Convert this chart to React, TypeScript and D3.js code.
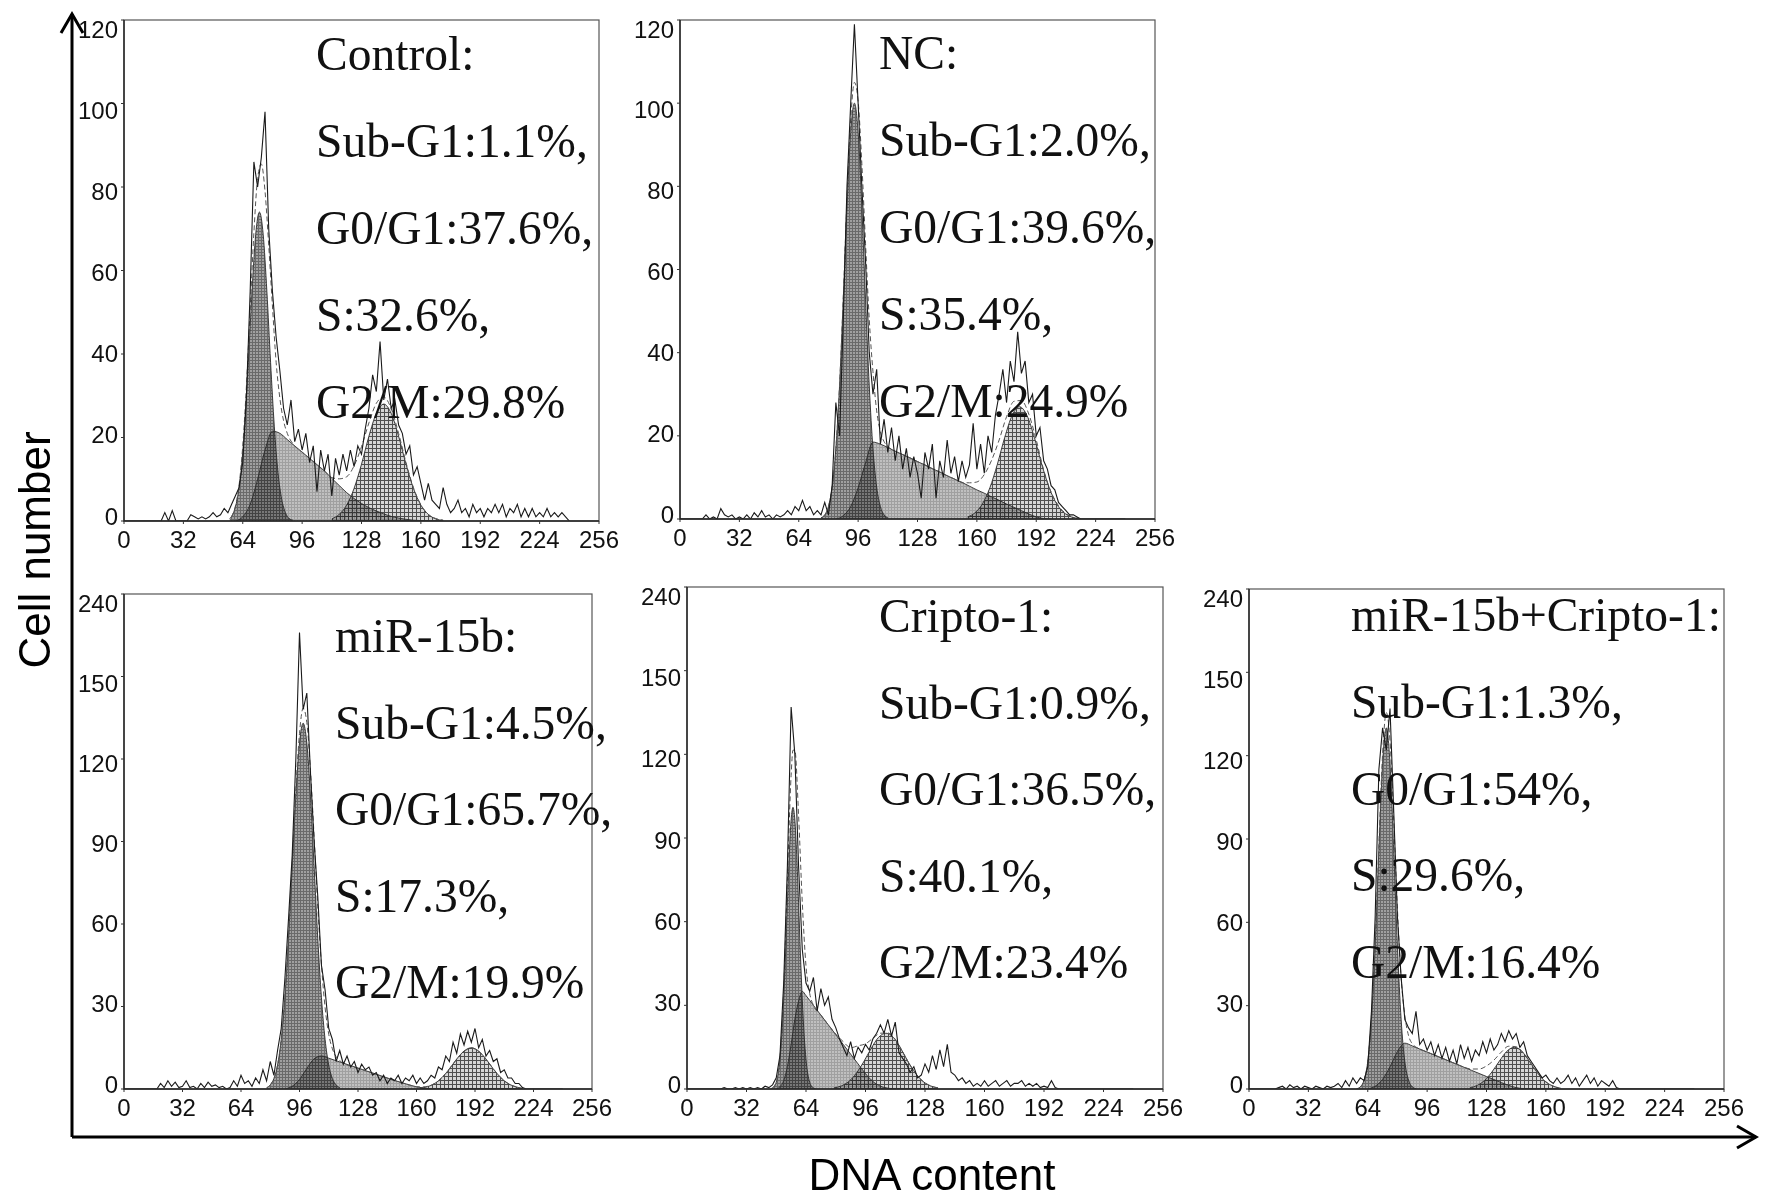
import { useEffect, useRef } from 'react'
import * as d3 from 'd3'

type Pt = [number, number]

// raw histograms hold one value per 2 channels, starting at channel 0
const RAW_STEP = 2

const xTicks = [0, 32, 64, 96, 128, 160, 192, 224, 256]
const topYTicks = [0, 20, 40, 60, 80, 100, 120]
const topYLabels = ['0', '20', '40', '60', '80', '100', '120']
const bottomYTicks = [0, 30, 60, 90, 120, 150, 180]
const bottomYLabels = ['0', '30', '60', '90', '120', '150', '240']

// ── Control ─────────────────────────────────────────────────────────
const controlText = ['Control:', 'Sub-G1:1.1%,', 'G0/G1:37.6%,', 'S:32.6%,', 'G2/M:29.8%']
const controlRaw = [
  0, 0, 0, 0, 0, 0, 0, 0, 0, 0,
  0, 2, 0, 2.5, 0, 0, 0, 0, 1.5, 1,
  0.5, 1, 0.5, 1, 2, 1, 1.5, 3, 2, 4,
  6, 8, 14, 30, 55, 86, 80, 87, 98, 70,
  55, 44, 36, 27, 23, 29, 19, 22, 17, 21,
  14, 18, 7, 17, 12, 16, 6, 15, 11, 16,
  12, 17, 13, 18, 16, 22, 27, 35, 31, 43,
  29, 34, 27, 29, 23, 21, 16, 18, 11, 13,
  9, 5, 9, 5, 4, 3, 8, 4, 2, 3,
  5, 2, 3, 1, 4, 2, 3, 1, 3, 2,
  4, 2, 4, 1, 3, 2, 4, 1, 3, 1,
  3, 1, 2, 1, 3, 1, 2, 1, 2, 1,
  0,
]
const controlG1: Pt[] = [
  [57, 0.6], [59, 2], [61, 5.2], [63, 11.6], [65, 22.7], [67, 38], [69, 55], [71, 68.7], [73, 74],
  [75, 68.7], [77, 55], [79, 38], [81, 22.7], [83, 11.6], [85, 5.2], [87, 2], [89, 0.6], [91, 0.2],
]
const controlS: Pt[] = [
  [60, 0], [64, 1], [68, 4], [72, 10], [76, 17], [80, 21.5], [84, 21], [88, 19.5], [92, 18], [96, 16.5],
  [100, 15], [104, 13.5], [108, 12], [112, 10.2], [116, 8.5], [120, 6.8], [124, 5.4], [128, 4.2],
  [132, 3.2], [136, 2.4], [140, 1.7], [144, 1.1], [148, 0.7], [152, 0.4], [156, 0.2], [160, 0.1], [164, 0],
]
const controlG2: Pt[] = [
  [112, 0.5], [116, 1.6], [120, 3.8], [124, 7.8], [128, 13.6], [132, 20.3], [136, 25.8], [140, 28],
  [144, 25.8], [148, 20.3], [152, 13.6], [156, 7.8], [160, 3.8], [164, 1.6], [168, 0.5], [172, 0.15],
]
const controlFit: Pt[] = [
  [58, 1], [60, 3.5], [62, 8.5], [64, 18], [66, 32.5], [68, 50.5], [70, 69], [72, 82], [74, 85.5],
  [76, 79], [78, 66], [80, 51.5], [82, 38], [84, 29.4], [86, 24], [88, 21], [92, 18], [96, 16.5],
  [100, 15], [104, 13.5], [108, 12], [112, 10.4], [116, 10.1], [120, 10.6], [124, 13.2], [128, 17.8],
  [132, 23.5], [136, 28.2], [140, 29.7], [144, 26.9], [148, 21], [152, 14], [156, 8], [160, 3.9],
  [164, 1.6], [168, 0.6], [172, 0.2],
]

// ── NC ──────────────────────────────────────────────────────────────
const ncText = ['NC:', 'Sub-G1:2.0%,', 'G0/G1:39.6%,', 'S:35.4%,', 'G2/M:24.9%']
const ncRaw = [
  0, 0, 0, 0, 0, 0, 0, 1, 0, 0.5,
  0, 2.5, 1, 0.5, 1, 0, 0.5, 0, 1, 0,
  1.5, 0.5, 2, 0.5, 1, 0, 1, 0.5, 1, 2,
  1, 3, 2, 4.5, 2, 3, 1, 2, 1, 4,
  1, 8, 28, 20, 48, 80, 100, 119, 100, 80,
  62, 40, 30, 36, 18, 24, 16, 22, 14, 20,
  12, 17, 10, 15, 11, 5, 16, 12, 18, 5,
  14, 10, 19, 11, 15, 9, 14, 10, 13, 23,
  12, 18, 11, 20, 16, 25, 30, 36, 28, 38,
  33, 45, 35, 38, 28, 30, 20, 22, 14, 12,
  8, 7, 4, 3, 2, 1, 1, 0.5, 0, 0,
  0, 0, 0, 0, 0, 0, 0, 0, 0, 0,
  0,
]
const ncG1: Pt[] = [
  [76, 0.3], [78, 1], [80, 3], [82, 7.7], [84, 16.9], [86, 32], [88, 52.7], [90, 75], [92, 93], [94, 100],
  [96, 93], [98, 75], [100, 52.7], [102, 32], [104, 16.9], [106, 7.7], [108, 3], [110, 1], [112, 0.3],
]
const ncS: Pt[] = [
  [84, 0], [88, 0.8], [92, 3], [96, 7.5], [100, 13.5], [104, 18.5], [108, 18], [112, 17.2], [116, 16.3],
  [120, 15.5], [124, 14.7], [128, 13.8], [132, 13], [136, 12.1], [140, 11.3], [144, 10.4], [148, 9.6],
  [152, 8.8], [156, 7.9], [160, 7], [164, 6.2], [168, 5.3], [172, 4.5], [176, 3.6], [180, 2.8], [184, 2],
  [188, 1.2], [192, 0.5], [196, 0.1], [200, 0],
]
const ncG2: Pt[] = [
  [155, 0.5], [159, 1.5], [163, 3.65], [167, 7.5], [171, 13.1], [175, 19.6], [179, 24.9], [183, 27],
  [187, 24.9], [191, 19.6], [195, 13.1], [199, 7.5], [203, 3.65], [207, 1.5], [211, 0.5], [215, 0.15],
]
const ncFit: Pt[] = [
  [80, 3], [82, 7.7], [84, 16.9], [86, 32.3], [88, 53.5], [90, 76.8], [92, 96], [94, 105], [96, 100.5],
  [98, 85.5], [100, 66.2], [102, 48], [104, 35.4], [106, 26], [108, 21], [110, 18.6], [112, 17.5],
  [116, 16.3], [120, 15.5], [124, 14.7], [128, 13.8], [132, 13], [136, 12.1], [140, 11.3], [144, 10.4],
  [148, 9.6], [152, 8.8], [156, 8.7], [160, 8.9], [164, 10.7], [168, 14.2], [172, 19], [176, 24.6],
  [180, 28.3], [184, 28.5], [188, 25.2], [192, 19], [196, 11.8], [200, 6.5], [204, 3.2], [208, 1.3], [212, 0.4],
]

// ── miR-15b ─────────────────────────────────────────────────────────
const mirText = ['miR-15b:', 'Sub-G1:4.5%,', 'G0/G1:65.7%,', 'S:17.3%,', 'G2/M:19.9%']
const mirRaw = [
  0, 0, 0, 0, 0, 0, 0, 0, 0, 0,
  2, 0.5, 3, 1, 2.5, 0.5, 1, 3, 0.5, 1,
  0, 2, 0.5, 2.5, 1, 1.5, 0.5, 1, 0, 0.5,
  3, 1, 5, 2, 3, 1, 4, 2, 7, 3,
  10, 5, 14, 22, 40, 62, 85, 120, 166, 138,
  144, 115, 90, 70, 45, 36, 22, 18, 10, 14,
  9, 12, 8, 10, 6, 9, 7, 8, 5, 6,
  3, 5, 2, 4, 3, 5, 2, 4, 3, 5,
  2, 4, 2, 3, 5, 4, 8, 7, 12, 10,
  17, 13, 20, 16, 21, 17, 22, 15, 18, 12,
  14, 10, 11, 6, 7, 4, 4, 2, 2, 0.5,
  0, 0, 0, 0, 0, 0, 0, 0, 0, 0,
  0,
]
const mirG1: Pt[] = [
  [78, 0.5], [80, 1.5], [82, 3.8], [84, 8.7], [86, 18], [88, 33.2], [90, 54.7], [92, 80.7], [94, 106.5],
  [96, 125.8], [98, 133], [100, 125.8], [102, 106.5], [104, 80.7], [106, 54.7], [108, 33.2], [110, 18],
  [112, 8.7], [114, 3.8], [116, 1.5], [118, 0.5],
]
const mirS: Pt[] = [
  [88, 0], [92, 1], [96, 3.5], [100, 7.5], [104, 11], [108, 12], [112, 11.2], [116, 10.3], [120, 9.4],
  [124, 8.5], [128, 7.6], [132, 6.7], [136, 5.8], [140, 4.9], [144, 4], [148, 3.1], [152, 2.3], [156, 1.5],
  [160, 0.8], [164, 0.3], [168, 0],
]
const mirG2: Pt[] = [
  [162, 0.3], [166, 0.84], [170, 2], [174, 4.2], [178, 7.3], [182, 10.9], [186, 13.8], [190, 15],
  [194, 13.8], [198, 10.9], [202, 7.3], [206, 4.2], [210, 2], [214, 0.84], [218, 0.3],
]
const mirFit: Pt[] = [
  [80, 1.5], [84, 8.7], [86, 18], [88, 33.2], [90, 55.2], [92, 81.7], [94, 108.7], [96, 129.3], [98, 138.5],
  [100, 133.3], [102, 115.8], [104, 91.7], [106, 66.2], [108, 45.2], [110, 29.6], [112, 19.9], [114, 14.6],
  [116, 11.8], [118, 10.3], [120, 9.4], [128, 7.6], [136, 5.8], [144, 4], [152, 2.3], [156, 1.5], [160, 0.8],
  [164, 0.8], [168, 1.4], [172, 3], [176, 5.7], [180, 9.1], [184, 12.4], [188, 14.5], [190, 15], [192, 14.5],
  [196, 12.4], [200, 9.1], [204, 5.7], [208, 3], [212, 1.4], [216, 0.5],
]

// ── Cripto-1 ────────────────────────────────────────────────────────
const criptoText = ['Cripto-1:', 'Sub-G1:0.9%,', 'G0/G1:36.5%,', 'S:40.1%,', 'G2/M:23.4%']
const criptoRaw = [
  0, 0, 0, 0, 0, 0, 0, 0, 0, 0,
  0.5, 0, 0, 0.5, 0, 0.5, 0, 0.5, 0, 0.5,
  0, 1, 0.5, 1.5, 4, 12, 38, 80, 137, 120,
  80, 50, 38, 35, 40, 28, 36, 30, 33, 25,
  22, 18, 15, 12, 17, 11, 15, 13, 16, 14,
  18, 20, 23, 20, 25, 19, 24, 13, 11, 9,
  6, 8, 4, 5, 9, 6, 12, 7, 14, 8,
  16, 6, 5, 3, 4, 2, 3, 1, 2, 1,
  3, 1, 2, 3, 1, 2, 3, 1, 2, 2,
  3, 1, 2, 1, 2, 0.5, 1, 0.5, 3, 0.5,
  0, 0, 0, 0, 0, 0, 0, 0, 0, 0,
  0, 0, 0, 0, 0, 0, 0, 0, 0, 0,
  0,
]
const criptoG1: Pt[] = [
  [45, 0.1], [47, 1], [48, 2.45], [49, 5.3], [50, 10.6], [51, 19.3], [52, 32], [53, 48.4], [54, 66.8],
  [55, 84], [56, 96.5], [57, 101], [58, 96.5], [59, 84], [60, 66.8], [61, 48.4], [62, 32], [63, 19.3],
  [64, 10.6], [65, 5.3], [66, 2.45], [67, 1], [69, 0.1],
]
const criptoS: Pt[] = [
  [48, 0], [50, 0.8], [52, 3], [54, 8], [56, 16], [58, 25], [60, 31.5], [62, 35], [64, 33.5], [68, 30],
  [72, 26.5], [76, 23], [80, 19.5], [84, 16], [88, 12.5], [92, 9], [96, 5.5], [100, 2.7], [104, 1],
  [108, 0.3], [112, 0],
]
const criptoG2: Pt[] = [
  [79, 0.4], [83, 1.1], [87, 2.7], [91, 5.6], [95, 9.7], [99, 14.5], [103, 18.5], [107, 20], [111, 18.5],
  [115, 14.5], [119, 9.7], [123, 5.6], [127, 2.7], [131, 1.1], [135, 0.4],
]
const criptoFit: Pt[] = [
  [46, 0.5], [48, 2.45], [50, 11.4], [52, 35], [54, 74.8], [56, 112.5], [57, 121.5], [58, 121.5], [60, 98.3],
  [62, 67], [64, 44.1], [66, 34.2], [68, 30], [72, 26.5], [76, 23], [80, 19.7], [84, 17], [88, 14.8],
  [92, 15.5], [96, 16.2], [100, 18.2], [104, 20], [108, 20.1], [112, 17.8], [116, 13.3], [120, 8.5],
  [124, 4.7], [128, 2.2], [132, 0.9], [136, 0.3],
]

// ── miR-15b + Cripto-1 ──────────────────────────────────────────────
const comboText = ['miR-15b+Cripto-1:', 'Sub-G1:1.3%,', 'G0/G1:54%,', 'S:29.6%,', 'G2/M:16.4%']
const comboRaw = [
  0, 0, 0, 0, 0, 0, 0, 0, 0.5, 1,
  0, 1.5, 0.5, 1, 0, 1, 0.5, 0, 1, 0.5,
  0, 1, 0.5, 1, 2, 0.5, 3, 1, 4, 2,
  4, 3, 8, 28, 62, 115, 130, 122, 137, 100,
  62, 40, 25, 22, 20, 28, 16, 18, 14, 17,
  12, 16, 11, 15, 10, 14, 9, 16, 11, 15,
  10, 14, 12, 17, 13, 18, 14, 16, 20, 17,
  21, 18, 20, 15, 17, 12, 10, 8, 6, 4,
  5, 3, 2, 4, 2, 3, 5, 2, 4, 1,
  3, 5, 2, 4, 1, 3, 2, 1, 3, 0.5,
  0, 0, 0, 0, 0, 0, 0, 0, 0, 0,
  0, 0, 0, 0, 0, 0, 0, 0, 0, 0,
  0,
]
const comboG1: Pt[] = [
  [58, 0.1], [60, 0.8], [62, 3.2], [64, 9.8], [66, 24.9], [68, 51.3], [70, 86], [72, 117.2], [74, 130],
  [76, 117.2], [78, 86], [80, 51.3], [82, 24.9], [84, 9.8], [86, 3.2], [88, 0.8], [90, 0.1],
]
const comboS: Pt[] = [
  [64, 0], [68, 1], [72, 3.5], [76, 8], [80, 13.5], [84, 16.5], [88, 15.5], [92, 14.4], [96, 13.3],
  [100, 12.2], [104, 11.1], [108, 10], [112, 8.9], [116, 7.8], [120, 6.7], [124, 5.6], [128, 4.5],
  [132, 3.4], [136, 2.3], [140, 1.3], [144, 0.5], [148, 0.1], [152, 0],
]
const comboG2: Pt[] = [
  [119, 0.43], [123, 1.3], [127, 3.1], [131, 6.2], [135, 10.1], [139, 13.6], [143, 15], [147, 13.6],
  [151, 10.1], [155, 6.2], [159, 3.1], [163, 1.3], [167, 0.43],
]
const comboFit: Pt[] = [
  [62, 3.2], [64, 9.8], [66, 25.4], [68, 52.3], [70, 88], [72, 120.7], [74, 135.5], [76, 125.2], [78, 96.7],
  [80, 64.8], [82, 39.9], [84, 26.3], [86, 19.2], [88, 16.3], [92, 14.4], [96, 13.3], [100, 12.2],
  [104, 11.1], [108, 10], [112, 8.9], [116, 7.8], [120, 7.2], [124, 7.2], [128, 8.3], [132, 10.4],
  [136, 13.3], [140, 15.4], [144, 15.2], [148, 12.9], [152, 9.2], [156, 5.5], [160, 2.6], [164, 1], [168, 0.3],
]

// panel layout: frame box [left, top, right, bottom], text anchor [x, first baseline, line step]
const panels = [
  { raw: controlRaw, g1: controlG1, s: controlS, g2: controlG2, fit: controlFit, text: controlText,
    yMax: 120, yTicks: topYTicks, yLabels: topYLabels, box: [124, 20, 599, 521], textAt: [316, 70, 87] },
  { raw: ncRaw, g1: ncG1, s: ncS, g2: ncG2, fit: ncFit, text: ncText,
    yMax: 120, yTicks: topYTicks, yLabels: topYLabels, box: [680, 20, 1155, 519], textAt: [879, 69, 87] },
  { raw: mirRaw, g1: mirG1, s: mirS, g2: mirG2, fit: mirFit, text: mirText,
    yMax: 180, yTicks: bottomYTicks, yLabels: bottomYLabels, box: [124, 594, 592, 1089], textAt: [335, 652, 86.5] },
  { raw: criptoRaw, g1: criptoG1, s: criptoS, g2: criptoG2, fit: criptoFit, text: criptoText,
    yMax: 180, yTicks: bottomYTicks, yLabels: bottomYLabels, box: [687, 587, 1163, 1089], textAt: [879, 632, 86.5] },
  { raw: comboRaw, g1: comboG1, s: comboS, g2: comboG2, fit: comboFit, text: comboText,
    yMax: 180, yTicks: bottomYTicks, yLabels: bottomYLabels, box: [1249, 589, 1724, 1089], textAt: [1351, 631, 86.8] },
]

const W = 1772
const H = 1202
const SANS = "'Liberation Sans', Arial, sans-serif"
const SERIF = "'Liberation Serif', 'Times New Roman', serif"

export default function App() {
  const ref = useRef<SVGSVGElement>(null)

  useEffect(() => {
    if (!ref.current) return
    const svg = d3.select(ref.current)
    svg.selectAll('*').remove()

    svg.append('rect').attr('width', W).attr('height', H).attr('fill', '#fff')

    // ── fill textures ───────────────────────────────────────────────
    const defs = svg.append('defs')
    const addPattern = (id: string, size: number, bg: string, ink: string) => {
      const pat = defs
        .append('pattern')
        .attr('id', id)
        .attr('width', size)
        .attr('height', size)
        .attr('patternUnits', 'userSpaceOnUse')
      pat.append('rect').attr('width', size).attr('height', size).attr('fill', bg)
      pat
        .append('path')
        .attr('d', `M0 0.5H${size}M0.5 0V${size}`)
        .attr('stroke', ink)
        .attr('stroke-width', 1)
    }
    addPattern('pG1', 3, '#a0a0a0', '#6a6a6a')
    addPattern('pS', 3, '#c0c0c0', '#a0a0a0')
    addPattern('pG2', 4, '#d6d6d6', '#4e4e4e')

    panels.forEach((p, i) => {
      const [x0, y0, x1, y1] = p.box
      const x = d3.scaleLinear().domain([0, 256]).range([x0, x1])
      const y = d3.scaleLinear().domain([0, p.yMax]).range([y1, y0])
      const yLab = d3.scaleLinear().domain([0, p.yMax]).range([y1 - 5, y0 + 9])

      defs
        .append('clipPath')
        .attr('id', `clip${i}`)
        .append('rect')
        .attr('x', x0)
        .attr('y', y0)
        .attr('width', x1 - x0)
        .attr('height', y1 - y0)

      const g = svg.append('g')
      const plot = g.append('g').attr('clip-path', `url(#clip${i})`)

      const area = d3
        .area<Pt>()
        .x((d) => x(d[0]))
        .y0(y(0))
        .y1((d) => y(d[1]))
        .curve(d3.curveMonotoneX)
      const line = d3
        .line<Pt>()
        .x((d) => x(d[0]))
        .y((d) => y(d[1]))
        .curve(d3.curveMonotoneX)

      // component fits: S phase, G0/G1 peak, G2/M peak
      const comps: [Pt[], string][] = [
        [p.s, 'pS'],
        [p.g1, 'pG1'],
        [p.g2, 'pG2'],
      ]
      comps.forEach(([data, pat]) => {
        plot
          .append('path')
          .attr('d', area(data))
          .attr('fill', `url(#${pat})`)
          .style('mix-blend-mode', 'multiply')
      })
      comps.forEach(([data]) => {
        plot
          .append('path')
          .attr('d', line(data))
          .attr('fill', 'none')
          .attr('stroke', '#2a2a2a')
          .attr('stroke-width', 0.9)
      })

      // total model fit (dashed)
      plot
        .append('path')
        .attr('d', line(p.fit))
        .attr('fill', 'none')
        .attr('stroke', '#555')
        .attr('stroke-width', 1)
        .attr('stroke-dasharray', '5,3')

      // raw histogram
      const rawPts: Pt[] = p.raw.map((v, k) => [k * RAW_STEP, v])
      const rawLine = d3
        .line<Pt>()
        .x((d) => x(d[0]))
        .y((d) => y(d[1]))
      plot
        .append('path')
        .attr('d', rawLine(rawPts))
        .attr('fill', 'none')
        .attr('stroke', '#1a1a1a')
        .attr('stroke-width', 1.1)

      // frame
      g.append('rect')
        .attr('x', x0)
        .attr('y', y0)
        .attr('width', x1 - x0)
        .attr('height', y1 - y0)
        .attr('fill', 'none')
        .attr('stroke', '#555')
        .attr('stroke-width', 1.2)
      g.append('path')
        .attr('d', `M${x0},${y0}V${y1}H${x1}`)
        .attr('fill', 'none')
        .attr('stroke', '#222')
        .attr('stroke-width', 1.4)

      // y ticks + labels
      p.yTicks.forEach((t, k) => {
        g.append('line')
          .attr('x1', x0 - 3)
          .attr('x2', x0)
          .attr('y1', y(t))
          .attr('y2', y(t))
          .attr('stroke', '#333')
        g.append('text')
          .attr('x', x0 - 6)
          .attr('y', yLab(t))
          .attr('dy', '0.36em')
          .attr('text-anchor', 'end')
          .style('font-family', SANS)
          .style('font-size', '24px')
          .style('fill', '#111')
          .text(p.yLabels[k])
      })

      // x ticks + labels
      xTicks.forEach((t) => {
        g.append('line')
          .attr('x1', x(t))
          .attr('x2', x(t))
          .attr('y1', y1)
          .attr('y2', y1 + 3)
          .attr('stroke', '#333')
        g.append('text')
          .attr('x', x(t))
          .attr('y', y1 + 27)
          .attr('text-anchor', 'middle')
          .style('font-family', SANS)
          .style('font-size', '24px')
          .style('fill', '#111')
          .text(String(t))
      })

      // phase percentages
      const [tx, ty, step] = p.textAt
      p.text.forEach((s, k) => {
        g.append('text')
          .attr('x', tx)
          .attr('y', ty + k * step)
          .style('font-family', SERIF)
          .style('font-size', '47.5px')
          .style('fill', '#111')
          .text(s)
      })
    })

    // ── big axis arrows ─────────────────────────────────────────────
    const ax = svg.append('g').attr('fill', 'none').attr('stroke', '#000').attr('stroke-width', 3)
    ax.append('path').attr('d', 'M72,1137V14')
    ax.append('path').attr('d', 'M61,33L72,14L83,33')
    ax.append('path').attr('d', 'M72,1137H1756')
    ax.append('path').attr('d', 'M1737,1126L1756,1137L1737,1148')

    svg
      .append('text')
      .attr('transform', 'translate(50,550) rotate(-90)')
      .attr('text-anchor', 'middle')
      .style('font-family', SANS)
      .style('font-size', '44px')
      .style('fill', '#000')
      .text('Cell number')

    svg
      .append('text')
      .attr('x', 932)
      .attr('y', 1190)
      .attr('text-anchor', 'middle')
      .style('font-family', SANS)
      .style('font-size', '44px')
      .style('fill', '#000')
      .text('DNA content')
  }, [])

  return (
    <svg
      ref={ref}
      width={W}
      height={H}
      style={{ position: 'absolute', left: 0, top: 0, background: '#fff' }}
    />
  )
}
